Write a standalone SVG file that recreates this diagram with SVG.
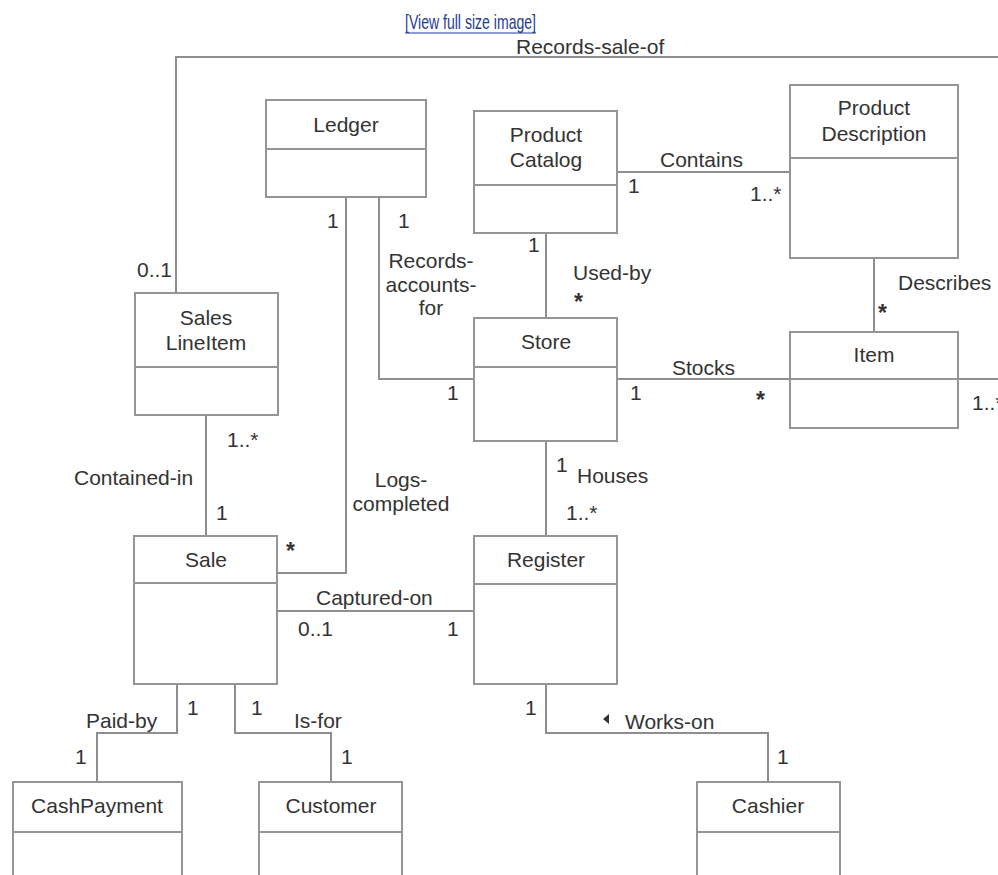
<svg xmlns="http://www.w3.org/2000/svg" width="998" height="875" viewBox="0 0 998 875">
<style>
.box{fill:#fff;stroke:#959595;stroke-width:2}
.div{stroke:#959595;stroke-width:2}
.conn{fill:none;stroke:#8e8e8e;stroke-width:2}
text{font-family:"Liberation Sans",Arial,sans-serif;font-size:21px;fill:#333}
.c{text-anchor:middle}
.star{font-weight:bold;font-size:23px}
.link{fill:#1f3c98;font-size:21px}
</style>
<rect width="998" height="875" fill="#fff"/>
<text class="link" x="405" y="29" textLength="131" lengthAdjust="spacingAndGlyphs">[View full size image]</text>
<line x1="405" y1="33" x2="536" y2="33" stroke="#1f3c98" stroke-width="1.2"/>

<g id="connectors">
<path class="conn" d="M176,293 V57 H998"/>
<path class="conn" d="M958,379 H998"/>
<path class="conn" d="M617,172 H790"/>
<path class="conn" d="M546,233 V318"/>
<path class="conn" d="M874,258 V332"/>
<path class="conn" d="M617,379 H790"/>
<path class="conn" d="M379,197 V379 H474"/>
<path class="conn" d="M346,197 V573 H277"/>
<path class="conn" d="M206,415 V536"/>
<path class="conn" d="M546,441 V536"/>
<path class="conn" d="M277,611 H474"/>
<path class="conn" d="M546,684 V733 H768 V782"/>
<path class="conn" d="M177,684 V733 H97 V782"/>
<path class="conn" d="M235,684 V733 H331 V782"/>
<polygon points="603,719 609,714 609,724" fill="#333"/>
<text x="516" y="54">Records-sale-of</text>
<text x="137" y="277">0..1</text>
<text x="972" y="410">1..*</text>
<text x="660" y="167">Contains</text>
<text x="628" y="193">1</text>
<text x="750" y="201">1..*</text>
<text x="528" y="252">1</text>
<text x="573" y="280">Used-by</text>
<text class="star" x="574" y="310">*</text>
<text x="898" y="290">Describes</text>
<text class="star" x="878" y="321">*</text>
<text x="672" y="375">Stocks</text>
<text x="630" y="400">1</text>
<text class="star" x="756" y="408">*</text>
<text x="327" y="228">1</text>
<text x="398" y="228">1</text>
<text class="c" x="431" y="268">Records-</text>
<text class="c" x="431" y="292">accounts-</text>
<text class="c" x="431" y="315">for</text>
<text x="447" y="400">1</text>
<text class="c" x="401" y="487">Logs-</text>
<text class="c" x="401" y="511">completed</text>
<text class="star" x="286" y="559">*</text>
<text x="74" y="485">Contained-in</text>
<text x="227" y="447">1..*</text>
<text x="216" y="520">1</text>
<text x="316" y="605">Captured-on</text>
<text x="298" y="636">0..1</text>
<text x="447" y="636">1</text>
<text x="556" y="472">1</text>
<text x="577" y="483">Houses</text>
<text x="566" y="520">1..*</text>
<text x="187" y="715">1</text>
<text x="86" y="728">Paid-by</text>
<text x="75" y="764">1</text>
<text x="251" y="715">1</text>
<text x="294" y="728">Is-for</text>
<text x="341" y="764">1</text>
<text x="525" y="715">1</text>
<text x="625" y="729">Works-on</text>
<text x="777" y="764">1</text>
</g>

<g id="ledger"><rect class="box" x="266" y="100" width="160" height="97"/><line class="div" x1="266" y1="149" x2="426" y2="149"/><text class="c" x="346" y="132">Ledger</text></g>
<g id="product-catalog"><rect class="box" x="474" y="111" width="143" height="122"/><line class="div" x1="474" y1="185" x2="617" y2="185"/><text class="c" x="546" y="142">Product</text><text class="c" x="546" y="167">Catalog</text></g>
<g id="product-description"><rect class="box" x="790" y="85" width="168" height="173"/><line class="div" x1="790" y1="158" x2="958" y2="158"/><text class="c" x="874" y="115">Product</text><text class="c" x="874" y="141">Description</text></g>
<g id="sales-line-item"><rect class="box" x="135" y="293" width="143" height="122"/><line class="div" x1="135" y1="367" x2="278" y2="367"/><text class="c" x="206" y="325">Sales</text><text class="c" x="206" y="350">LineItem</text></g>
<g id="store"><rect class="box" x="474" y="318" width="143" height="123"/><line class="div" x1="474" y1="367" x2="617" y2="367"/><text class="c" x="546" y="349">Store</text></g>
<g id="item"><rect class="box" x="790" y="332" width="168" height="96"/><line class="div" x1="790" y1="379" x2="958" y2="379"/><text class="c" x="874" y="362">Item</text></g>
<g id="sale"><rect class="box" x="134" y="536" width="143" height="148"/><line class="div" x1="134" y1="583" x2="277" y2="583"/><text class="c" x="206" y="567">Sale</text></g>
<g id="register"><rect class="box" x="474" y="536" width="143" height="148"/><line class="div" x1="474" y1="584" x2="617" y2="584"/><text class="c" x="546" y="567">Register</text></g>
<g id="cash-payment"><rect class="box" x="13" y="782" width="169" height="120"/><line class="div" x1="13" y1="832" x2="182" y2="832"/><text class="c" x="97" y="813">CashPayment</text></g>
<g id="customer"><rect class="box" x="259" y="782" width="143" height="120"/><line class="div" x1="259" y1="832" x2="402" y2="832"/><text class="c" x="331" y="813">Customer</text></g>
<g id="cashier"><rect class="box" x="697" y="782" width="143" height="120"/><line class="div" x1="697" y1="832" x2="840" y2="832"/><text class="c" x="768" y="813">Cashier</text></g>
</svg>
